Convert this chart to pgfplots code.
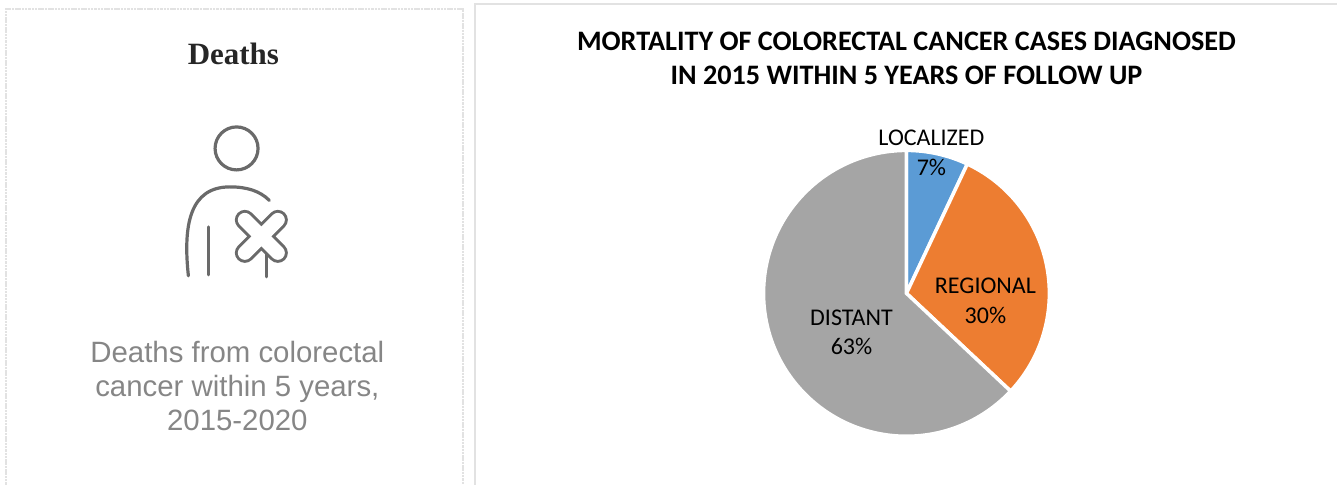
\documentclass[border=0pt]{standalone}
\usepackage{pgfplots}
\usepackage{pgfplotstable}
\usepackage{fontspec}
\pgfplotsset{compat=1.18}
\setmainfont{Carlito}
\newfontfamily\serifb{Liberation Serif}
\newfontfamily\arialf{Liberation Sans}
\definecolor{cLoc}{HTML}{5B9BD5}
\definecolor{cReg}{HTML}{ED7D31}
\definecolor{cDis}{HTML}{A5A5A5}
\definecolor{icon}{HTML}{6A6A6A}
\definecolor{gtext}{HTML}{868686}
\definecolor{frame}{HTML}{E2E2E2}
\pgfplotstableread{
share
7
30
63
}\pietable
\pgfplotstablegetelem{0}{share}\of\pietable\let\vA\pgfplotsretval
\pgfplotstablegetelem{1}{share}\of\pietable\let\vB\pgfplotsretval
\pgfplotstablegetelem{2}{share}\of\pietable\let\vC\pgfplotsretval
\pgfmathsetmacro{\angA}{90-3.6*\vA}
\pgfmathsetmacro{\angB}{\angA-3.6*\vB}
\pgfmathsetmacro{\angC}{\angB-3.6*\vC}
\begin{document}
\begin{tikzpicture}
\begin{axis}[
  x=1pt,y=1pt,y dir=reverse,
  xmin=0,xmax=1338,ymin=0,ymax=485,
  hide axis,clip=false,
  scale only axis,
]
% panel frames
\draw[frame,line width=1.6pt,dash pattern=on 2.5pt off 0.8pt] (axis cs:6,485) -- (axis cs:6,9) -- (axis cs:463,9) -- (axis cs:463,485);
\draw[frame,line width=1.6pt] (axis cs:475.5,485) -- (axis cs:475.5,4) -- (axis cs:1338,4);
% left panel
\node[font=\serifb\bfseries\fontsize{31}{34}\selectfont,text=black!85] at (axis cs:233.5,54) {Deaths};
\draw[icon,line width=3.2pt] (axis cs:236.7,148.5) circle[radius=21.5pt];
\draw[icon,line width=3.2pt,line cap=round] (axis cs:188.5,276) .. controls (axis cs:183,225) and (axis cs:190,187) .. (axis cs:230,187) .. controls (axis cs:247,187) and (axis cs:260,191) .. (axis cs:269.5,200.5);
\draw[icon,line width=3.2pt,line cap=round] (axis cs:208.3,227) -- (axis cs:208.3,275);
\draw[icon,line width=3.2pt,line cap=round] (axis cs:266.7,252) -- (axis cs:266.7,277);
\draw[icon,line width=20pt,line cap=round] (axis cs:245,220) -- (axis cs:278,253) (axis cs:278,220) -- (axis cs:245,253);
\draw[white,line width=14pt,line cap=round] (axis cs:245,220) -- (axis cs:278,253) (axis cs:278,220) -- (axis cs:245,253);
\node[font=\arialf\fontsize{29.4}{34}\selectfont,text=gtext,align=center] at (axis cs:237.5,386) {Deaths from colorectal\\cancer within 5 years,\\2015-2020};
% title
\node[font=\bfseries\fontsize{28.2}{34}\selectfont,align=center,text=black] at (axis cs:907,58.5) {MORTALITY OF COLORECTAL CANCER CASES DIAGNOSED\\IN 2015 WITHIN 5 YEARS OF FOLLOW UP};
% pie
\fill[cLoc,draw=white,line width=3.5pt] (axis cs:907,293.5) -- ++(90:143pt) arc[start angle=90,end angle=\angA,radius=143pt] -- cycle;
\fill[cReg,draw=white,line width=3.5pt] (axis cs:907,293.5) -- ++(\angA:143pt) arc[start angle=\angA,end angle=\angB,radius=143pt] -- cycle;
\fill[cDis,draw=white,line width=3.5pt] (axis cs:907,293.5) -- ++(\angB:143pt) arc[start angle=\angB,end angle=\angC,radius=143pt] -- cycle;
% labels
\node[font=\fontsize{24}{30}\selectfont,align=center,text=black] at (axis cs:932,153) {LOCALIZED\\\vA\%};
\node[font=\fontsize{24}{30}\selectfont,align=center,text=black] at (axis cs:986,300.5) {REGIONAL\\\vB\%};
\node[font=\fontsize{24}{30}\selectfont,align=center,text=black] at (axis cs:852,332.5) {DISTANT\\\vC\%};
\end{axis}
\useasboundingbox (0,0) rectangle (1338pt,485pt);
\end{tikzpicture}
\end{document}
